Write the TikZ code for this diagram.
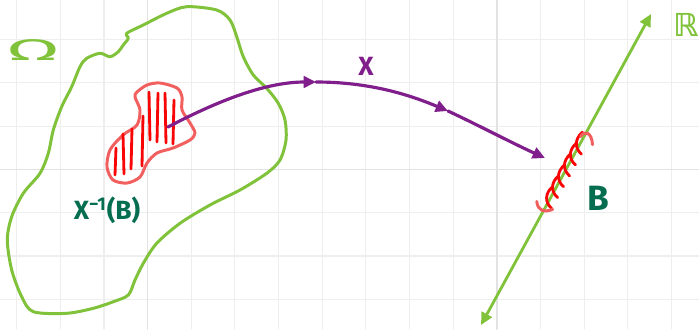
\documentclass[tikz,border=0pt]{standalone}
\usepackage{fontspec}
\setmainfont{Fira Sans}
\newfontfamily\symfont{DejaVu Sans}
\usepackage{tikz}
\usetikzlibrary{arrows.meta,calc}

\definecolor{setgreen}{RGB}{128,194,58}
\definecolor{labelteal}{RGB}{5,110,80}
\definecolor{mappurple}{RGB}{128,30,140}
\definecolor{hatchred}{RGB}{250,5,5}
\definecolor{rimsalmon}{RGB}{242,95,95}
\definecolor{gridgray}{RGB}{238,238,238}
\definecolor{majorgray}{RGB}{226,226,226}

\begin{document}
\begin{tikzpicture}[x=0.02cm, y=-0.02cm, line cap=round, line join=round,
  gridline/.style={gridgray, line width=0.6pt},
  majorline/.style={majorgray, line width=0.9pt},
  setrim/.style={setgreen, line width=1.7pt},
  preimage/.style={rimsalmon, line width=1.7pt},
  hatch/.style={hatchred, line width=1.6pt},
  maparrow/.style={mappurple, line width=1.8pt, -{Triangle[length=7pt,width=6.5pt]}},
  realline/.style={setgreen, line width=1.6pt, {Triangle[length=7pt,width=6.5pt]}-{Triangle[length=7pt,width=6.5pt]}},
  tag/.style={inner sep=0pt, font=\bfseries\fontsize{15}{17}\selectfont}]

  \useasboundingbox[fill=white] (0,0) rectangle (699,329);

  % grid paper
  \foreach \k in {0,...,15}
    \draw[gridline] ({16.7+43.65*\k},0) -- ({16.7+43.65*\k},329);
  \foreach \k in {1,...,7}
    \draw[gridline] (0,{-3.8+43.3*\k}) -- (699,{-3.8+43.3*\k});
  \draw[majorline] (147.6,0) -- (147.6,329);
  \draw[majorline] (496.8,0) -- (496.8,329);
  \draw[majorline] (0,169.4) -- (699,169.4);

  % the sample space
  \draw[setrim] plot[smooth cycle] coordinates {
    (186.7,6.7) (216.7,10) (230,20) (236.7,36.7) (243.3,56.7) (253.3,75)
    (266.7,88.3) (278.3,103.3) (285,120) (286,140) (280,160) (266.7,173.3)
    (240,190) (210,205) (180,223.3) (156.7,243.3) (143.3,263.3) (135,280)
    (128.3,295) (113.3,301.7) (93.3,308.3) (66.7,313.3) (33.3,311.7)
    (21.7,296.7) (11.7,270) (7.3,240) (11.7,216.7) (23.3,193.3) (40,173.3)
    (48.3,153.3) (53.3,130) (61.7,106.7) (71.7,86.7) (80,66.7) (86.7,58.3)
    (100,53.3) (110,56.7) (118.3,51.7) (123.3,45) (128.3,38.3) (126.7,33.3)
    (143.3,25) (166.7,13.3)};
  \node[tag, setgreen, font=\fontsize{17}{19}\selectfont, xscale=2.6] (omega) at (33,50) {Ω};

  % preimage of B
  \draw[preimage] plot[smooth cycle] coordinates {
    (137,92) (147,85) (160,83) (177,88) (182,97) (182,110) (190,123)
    (195,133) (190,140) (173,148) (157,153) (147,163) (140,177) (127,183)
    (113,180) (107,167) (110,150) (123,135) (137,125) (140,110) (135,97)};
  \foreach \xa/\ya/\xb/\yb in {116/148/115/175, 123/134/124/174, 132/129/131/169,
      143/116/142/166, 149/92/150/140, 158/93/157/142, 165/93/166/143, 174/100/173/144}
    \draw[hatch] (\xa,\ya) -- (\xb,\yb);
  \node[tag, labelteal] (prelabel) at (107,210) {X\textsuperscript{−1}(B)};

  % the real line
  \coordinate (lo) at (481,325);
  \coordinate (hi) at (651,14);
  \draw[realline] (lo) -- (hi);
  \node[tag, setgreen, font=\symfont\bfseries\fontsize{18}{20}\selectfont] (rlabel) at (686,25) {ℝ};

  % B on the line
  \foreach \t in {0.41,0.445,0.48,0.515,0.55,0.585} {
    \coordinate (h) at ($(lo)!\t!(hi)$);
    \draw[hatch] ($(h)+(1,11)$) .. controls ($(h)+(-6,5)$) and ($(h)+(-6,-4)$) .. ($(h)+(2,-11)$);
  }
  \coordinate (capa) at ($(lo)!0.375!(hi)$);
  \coordinate (capb) at ($(lo)!0.615!(hi)$);
  \draw[preimage] ($(capa)+(-8,-7)$) .. controls ($(capa)+(-7,3)$) and ($(capa)+(0,4)$) .. ($(capa)+(8,1)$);
  \draw[preimage] ($(capb)+(-5,3)$) .. controls ($(capb)+(-2,-3)$) and ($(capb)+(6,-3)$) .. ($(capb)+(7,11)$);
  \node[tag, labelteal, font=\bfseries\fontsize{20}{22}\selectfont] (blabel) at (598,198) {B};

  % the random variable
  \coordinate (src) at (168,127);
  \coordinate (via1) at (316,82);
  \coordinate (via2) at (448,111);
  \coordinate (tgt) at (545,158);
  \draw[maparrow] (src) .. controls (225,97) and (270,82) .. (via1);
  \draw[maparrow] (via1) .. controls (370,82) and (410,95) .. (via2);
  \draw[maparrow] (via2) .. controls (480,126) and (510,142) .. (tgt);
  \node[tag, mappurple] (xlabel) at (366,66) {X};
\end{tikzpicture}
\end{document}
